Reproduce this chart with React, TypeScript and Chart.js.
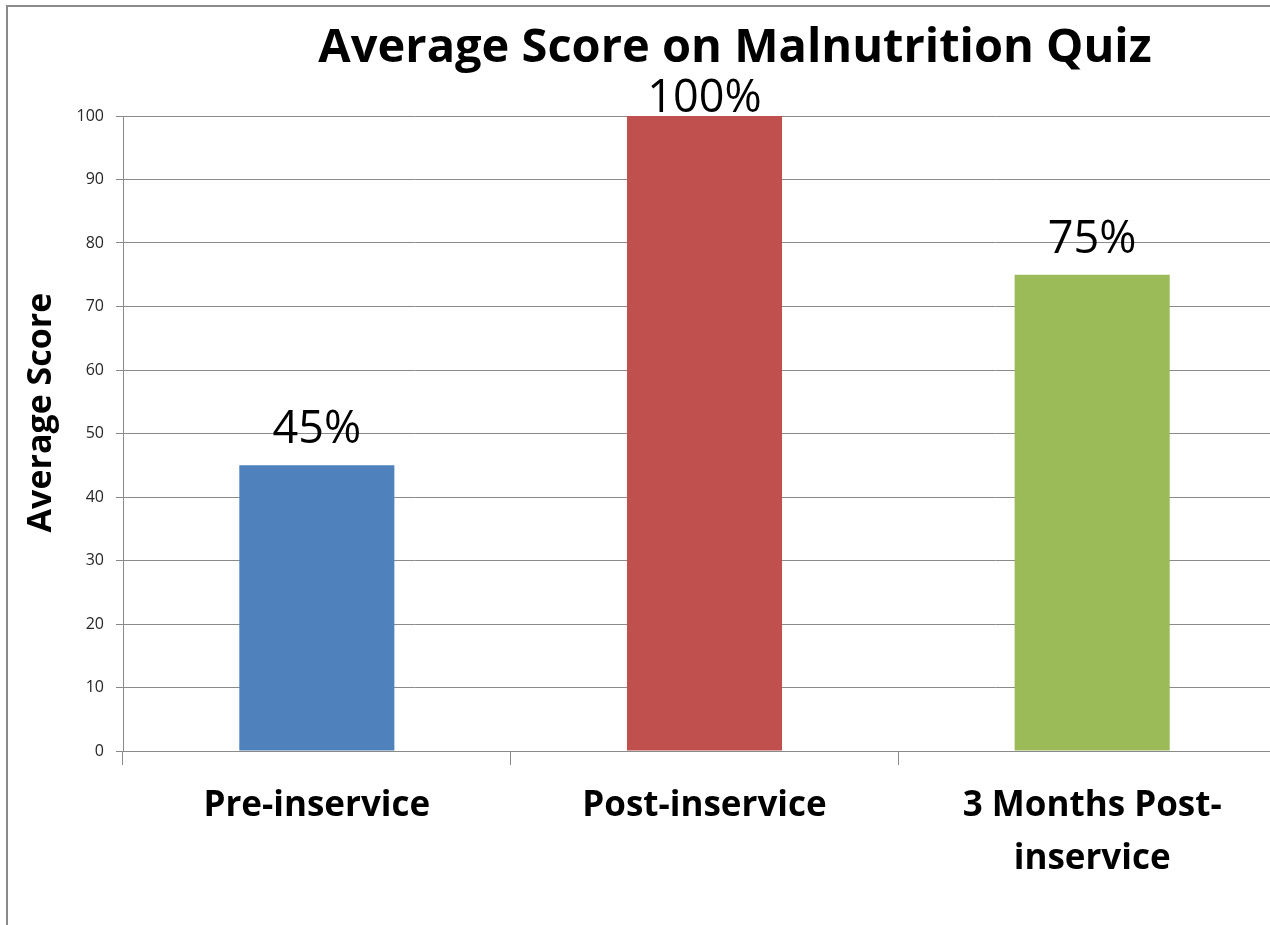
import React, { useEffect, useRef } from "react";
import { Chart, registerables } from "chart.js";

Chart.register(...registerables);

const categories: (string | string[])[] = ["Pre-inservice", "Post-inservice", ["3 Months Post-", "inservice"]];
const scores = [45, 100, 75];
const valueLabels = ["45%", "100%", "75%"];
const barColors = ["#4F81BD", "#C0504D", "#9BBB59"];
const titleText = "Average Score on Malnutrition Quiz";
const yAxisTitle = "Average Score";

const FONT = "'Open Sans', sans-serif";

const valueLabelPlugin = {
  id: "valueLabels",
  afterDatasetsDraw(chart: any) {
    const ctx = chart.ctx;
    const area = chart.chartArea;
    const meta = chart.getDatasetMeta(0);
    ctx.save();
    ctx.font = `45px ${FONT}`;
    ctx.fillStyle = "#000";
    ctx.textAlign = "center";
    ctx.textBaseline = "alphabetic";
    meta.data.forEach((bar: any, i: number) => {
      const y = Math.max(bar.y - 22, area.top - 4);
      ctx.fillText(valueLabels[i], bar.x, y);
    });
    ctx.restore();
  },
};

const titlesPlugin = {
  id: "titles",
  afterDraw(chart: any) {
    const ctx = chart.ctx;
    const area = chart.chartArea;
    ctx.save();
    ctx.font = `bold 47px ${FONT}`;
    ctx.fillStyle = "#000";
    ctx.textAlign = "center";
    ctx.textBaseline = "alphabetic";
    ctx.fillText(titleText, 735, 62);
    ctx.restore();

    ctx.save();
    ctx.translate(41, (area.top + area.bottom) / 2 - 21);
    ctx.rotate(-Math.PI / 2);
    ctx.font = `bold 34px ${FONT}`;
    ctx.fillStyle = "#000";
    ctx.textAlign = "center";
    ctx.textBaseline = "middle";
    ctx.fillText(yAxisTitle, 0, 0);
    ctx.restore();
  },
};

export default function App() {
  const ref = useRef<HTMLCanvasElement | null>(null);

  useEffect(() => {
    if (!ref.current) return;
    const chart = new Chart(ref.current, {
      type: "bar",
      data: {
        labels: categories as any,
        datasets: [
          {
            data: scores,
            backgroundColor: barColors,
            borderWidth: 0,
            categoryPercentage: 1,
            barPercentage: 0.4,
          },
        ],
      },
      options: {
        responsive: false,
        animation: false,
        layout: { padding: { left: 0, right: 184, top: 116, bottom: 0 } },
        plugins: {
          legend: { display: false },
          tooltip: { enabled: false },
          title: { display: false },
        },
        scales: {
          x: {
            offset: true,
            afterFit: (s: any) => {
              s.height = 174;
            },
            grid: {
              display: true,
              offset: true,
              drawOnChartArea: false,
              drawTicks: true,
              tickLength: 14,
              color: "#8a8a8a",
            },
            border: { display: true, color: "#8a8a8a" },
            ticks: {
              color: "#000",
              padding: 15,
              maxRotation: 0,
              autoSkip: false,
              font: { family: FONT, size: 35, weight: "bold", lineHeight: 1.5 },
            },
          },
          y: {
            min: 0,
            max: 100,
            afterFit: (s: any) => {
              s.width = 123;
            },
            grid: {
              color: "#8a8a8a",
              tickLength: 7,
              drawTicks: true,
            },
            border: { display: true, color: "#8a8a8a" },
            ticks: {
              stepSize: 10,
              color: "#262626",
              padding: 12,
              font: { family: FONT, size: 16 },
            },
          },
        },
      },
      plugins: [valueLabelPlugin, titlesPlugin],
    });
    return () => chart.destroy();
  }, []);

  return (
    <div
      style={{
        position: "fixed",
        left: 0,
        top: 0,
        width: 1270,
        height: 925,
        overflow: "hidden",
        background: "#fff",
      }}
    >
      <canvas
        ref={ref}
        width={1470}
        height={925}
        style={{ position: "absolute", left: 0, top: 0, width: 1470, height: 925 }}
      />
      <div
        style={{
          position: "absolute",
          left: 6,
          top: 5,
          width: 2000,
          height: 2000,
          borderLeft: "2px solid #8a8a8a",
          borderTop: "2px solid #8a8a8a",
          pointerEvents: "none",
        }}
      />
    </div>
  );
}
